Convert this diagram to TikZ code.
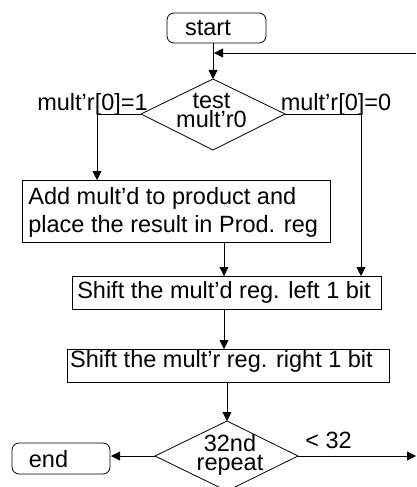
\documentclass[tikz,border=0pt]{standalone}
\usepackage{fontspec}
\setmainfont{Liberation Sans}
\usetikzlibrary{shapes.geometric,arrows.meta}
\newcommand{\ctrlines}[3]{\vtop{\baselineskip=#1\lineskiplimit=-100pt\lineskip=0pt\halign{\hfil##\hfil\cr #2\cr #3\cr}}}
\newcommand{\leftlines}[3]{\vtop{\baselineskip=#1\lineskiplimit=-100pt\lineskip=0pt\halign{##\hfil\cr #2\cr #3\cr}}}
\begin{document}
\begin{tikzpicture}[x=1pt,y=-1pt,
  line width=0.8pt,
  arr/.style={-{Triangle[width=9pt,length=9pt]}},
  rbox/.style={draw,rounded corners=7pt},
  sbox/.style={draw},
  txt/.style={font=\fontsize{23.5}{24}\selectfont,inner sep=0pt,anchor=base}]
\useasboundingbox (0,0) rectangle (416,487);
% start
\draw[rbox] (167,13) rectangle (266,43);
\node[txt] (start) at (208,36) {start};
\coordinate (startb) at (213,43);
% diamond 1
\draw (213,79) -- (285,114) -- (213,150) -- (141,114) -- cycle;
\coordinate (d1t) at (213,79);
\coordinate (d1l) at (141,114);
\coordinate (d1r) at (285,114);
\node[txt] (test) at (211.5,108) {\ctrlines{19pt}{test}{mult’r0}};
\node[txt] (lab1) at (92.5,110) {mult’r[0]=1};
\node[txt] (lab0) at (336,110) {mult’r[0]=0};
% add box
\draw[sbox] (22,180) rectangle (330,242);
\node[txt,anchor=base west] (add) at (28,204) {\leftlines{28pt}{Add mult’d to product and}{place the result in Prod. reg}};
\coordinate (addt) at (97,180);
\coordinate (addb) at (224,242);
% shift 1
\draw[sbox] (72,276) rectangle (381,309);
\node[txt] (sh1) at (224,298) {Shift the mult’d reg. left 1 bit};
\coordinate (sh1t) at (224,276);
\coordinate (sh1tr) at (361,276);
\coordinate (sh1b) at (224,309);
% shift 2
\draw[sbox] (67,349) rectangle (389,382);
\node[txt] (sh2) at (221.5,367) {Shift the mult’r reg. right 1 bit};
\coordinate (sh2t) at (224,349);
\coordinate (sh2b) at (227,382);
% diamond 2
\draw (227,421) -- (298,456) -- (227,491) -- (155,456) -- cycle;
\coordinate (d2t) at (227,421);
\coordinate (d2l) at (155,456);
\coordinate (d2r) at (298,456);
\node[txt] (rep) at (230,451) {\ctrlines{19pt}{32nd}{repeat}};
\node[txt] (lt) at (328.5,448) {< 32};
% end
\draw[rbox] (12,443) rectangle (110,474);
\node[txt] (end) at (48.5,467) {end};
\coordinate (endr) at (111,456);
% loop edges
\coordinate (loopin) at (416,53);
\coordinate (loopout) at (416,456);
% connectors
\draw[arr] (startb) -- (d1t);
\draw[arr] (loopin) -- (214,53);
\draw[arr] (d1l) -- (97,114) -- (addt);
\draw[arr] (d1r) -- (361,114) -- (sh1tr);
\draw[arr] (addb) -- (sh1t);
\draw[arr] (sh1b) -- (sh2t);
\draw[arr] (sh2b) -- (d2t);
\draw[arr] (d2l) -- (endr);
\draw[arr] (d2r) -- (loopout);
\end{tikzpicture}
\end{document}
